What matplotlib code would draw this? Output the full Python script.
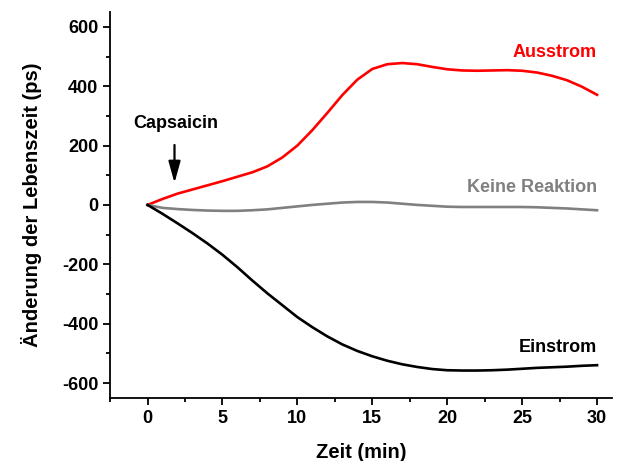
import numpy as np
import matplotlib
matplotlib.use("Agg")
import matplotlib.pyplot as plt
from matplotlib.ticker import MultipleLocator

plt.rcParams["font.family"] = ["Liberation Sans", "DejaVu Sans"]
plt.rcParams["font.weight"] = "bold"
plt.rcParams["axes.unicode_minus"] = False

# time in minutes
zeit = list(range(0, 31))

ausstrom = [0, 20, 38, 52, 66, 80, 95, 110, 130, 160, 200, 252, 310, 370, 422, 458,
            474, 478, 474, 465, 457, 453, 452, 453, 454, 452, 446, 435, 420, 398, 371]
keine = [0, -10, -14, -17, -19, -20, -20, -18, -15, -10, -5, 0, 4, 8, 10, 10,
         8, 4, 0, -3, -6, -7, -7, -7, -7, -7, -8, -10, -12, -15, -18]
einstrom = [0, -30, -62, -95, -130, -168, -210, -255, -298, -338, -378, -412, -443, -470, -492, -510,
            -525, -537, -546, -553, -557, -558, -558, -557, -555, -552, -549, -547, -545, -542, -540]

fig = plt.figure(figsize=(6.29, 4.61), dpi=100)
ax = fig.add_axes([0.175, 0.137, 0.798, 0.837])

ax.plot(zeit, ausstrom, color="#ff0000", lw=1.9)
ax.plot(zeit, keine, color="#808080", lw=1.9)
ax.plot(zeit, einstrom, color="black", lw=1.9)

fs = 13
ax.text(30, 515, "Ausstrom", color="#ff0000", fontsize=fs, fontweight="bold", ha="right", va="center")
ax.text(30, 57, "Keine Reaktion", color="#808080", fontsize=fs, fontweight="bold", ha="right", va="center")
ax.text(30, -480, "Einstrom", color="black", fontsize=fs, fontweight="bold", ha="right", va="center")
ax.text(1.9, 273, "Capsaicin", color="black", fontsize=fs, fontweight="bold", ha="center", va="center")
ax.annotate("", xy=(1.8, 74), xytext=(1.8, 202),
            arrowprops=dict(arrowstyle="-|>,head_length=1.3,head_width=0.36",
                            mutation_scale=10, color="black", lw=1.6,
                            shrinkA=0, shrinkB=0))

ax.set_xlim(-2.5, 31)
ax.set_ylim(-650, 650)
ax.xaxis.set_major_locator(MultipleLocator(5))
ax.xaxis.set_minor_locator(MultipleLocator(2.5))
ax.yaxis.set_major_locator(MultipleLocator(200))
ax.yaxis.set_minor_locator(MultipleLocator(100))

for s in ["top", "right"]:
    ax.spines[s].set_visible(False)
for s in ["left", "bottom"]:
    ax.spines[s].set_linewidth(1.3)
ax.tick_params(which="major", direction="out", length=5, width=1.3, labelsize=13)
ax.tick_params(which="minor", direction="out", length=3, width=1.3)

ax.set_xlabel("Zeit (min)", fontsize=14.5, fontweight="bold", labelpad=12)
ax.set_ylabel("Änderung der Lebenszeit (ps)", fontsize=14.5, fontweight="bold", labelpad=14)

fig.savefig("out.png", dpi=100)
